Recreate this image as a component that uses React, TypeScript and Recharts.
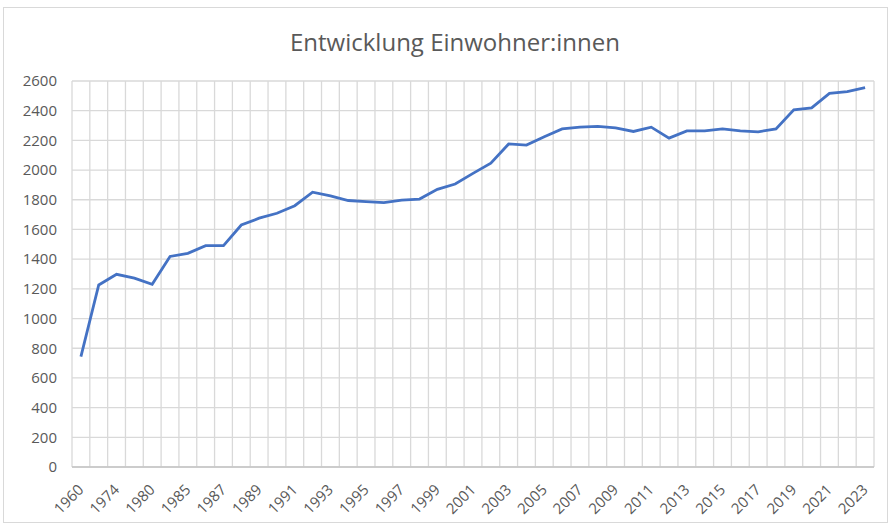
import { LineChart, Line, XAxis, YAxis, CartesianGrid } from "recharts";

// Categories as shown on the axis (only every other one is labelled)
const years = [
  "1960", "1970", "1974", "1977", "1980", "1983",
  "1985", "1986", "1987", "1988", "1989", "1990", "1991", "1992", "1993",
  "1994", "1995", "1996", "1997", "1998", "1999", "2000", "2001", "2002",
  "2003", "2004", "2005", "2006", "2007", "2008", "2009", "2010", "2011",
  "2012", "2013", "2014", "2015", "2016", "2017", "2018", "2019", "2020",
  "2021", "2022", "2023",
];

// Einwohner:innen per year
const residents = [
  743, 1226, 1298, 1272, 1231, 1418,
  1439, 1491, 1491, 1630, 1676, 1709, 1760, 1851, 1826,
  1795, 1788, 1781, 1798, 1805, 1870, 1906, 1978, 2046,
  2176, 2168, 2225, 2277, 2289, 2295, 2284, 2260, 2289,
  2215, 2264, 2264, 2277, 2264, 2258, 2277, 2406, 2419,
  2517, 2528, 2555,
];

const yTicks = [0, 200, 400, 600, 800, 1000, 1200, 1400, 1600, 1800, 2000, 2200, 2400, 2600];

const chartData = years.map((year, i) => ({ year, value: residents[i] }));

const FONT = "'Open Sans', sans-serif";
const TEXT_COLOR = "#595959";
const GRID_COLOR = "#d9d9d9";

function YearTick({ x, y, payload }: any) {
  const ty = y + 20;
  return (
    <text
      x={x}
      y={ty}
      transform={`rotate(-45, ${x}, ${ty})`}
      textAnchor="end"
      dy="0.35em"
      fill={TEXT_COLOR}
      fontSize={15}
      fontFamily={FONT}
    >
      {payload.value}
    </text>
  );
}

// vertical gridlines sit on the category boundaries, like Excel
const boundaryLines = ({ offset }: any) => {
  const step = offset.width / years.length;
  return Array.from({ length: years.length + 1 }, (_, i) => offset.left + i * step);
};

export default function App() {
  return (
    <div style={{ position: "relative", width: 892, height: 527, background: "#fff" }}>
      <style>{"body{margin:0}"}</style>
      <div
        style={{
          position: "absolute",
          left: 3,
          top: 7,
          width: 885,
          height: 516,
          border: "1px solid #d9d9d9",
          boxSizing: "border-box",
        }}
      />
      <div
        style={{
          position: "absolute",
          left: 255,
          top: 25,
          width: 400,
          lineHeight: "34px",
          textAlign: "center",
          fontFamily: FONT,
          fontSize: 24,
          color: TEXT_COLOR,
        }}
      >
        Entwicklung Einwohner:innen
      </div>
      <div style={{ position: "absolute", left: 0, top: 0 }}>
        <LineChart
          width={892}
          height={527}
          data={chartData}
          margin={{ top: 81, right: 18, bottom: 10, left: 12 }}
        >
          <CartesianGrid
            stroke={GRID_COLOR}
            strokeWidth={1.3}
            verticalCoordinatesGenerator={boundaryLines}
          />
          <XAxis
            dataKey="year"
            scale="band"
            interval={1}
            height={50}
            tickLine={false}
            tickSize={0}
            tickMargin={0}
            axisLine={{ stroke: "#c4c4c4", strokeWidth: 1.3 }}
            tick={<YearTick />}
          />
          <YAxis
            width={60}
            domain={[0, 2600]}
            ticks={yTicks}
            interval={0}
            axisLine={false}
            tickLine={false}
            tickSize={0}
            tickMargin={15}
            tick={{ fill: TEXT_COLOR, fontSize: 15, fontFamily: FONT }}
          />
          <Line
            type="linear"
            dataKey="value"
            stroke="#4472C4"
            strokeWidth={2.8}
            dot={false}
            isAnimationActive={false}
          />
        </LineChart>
      </div>
    </div>
  );
}
